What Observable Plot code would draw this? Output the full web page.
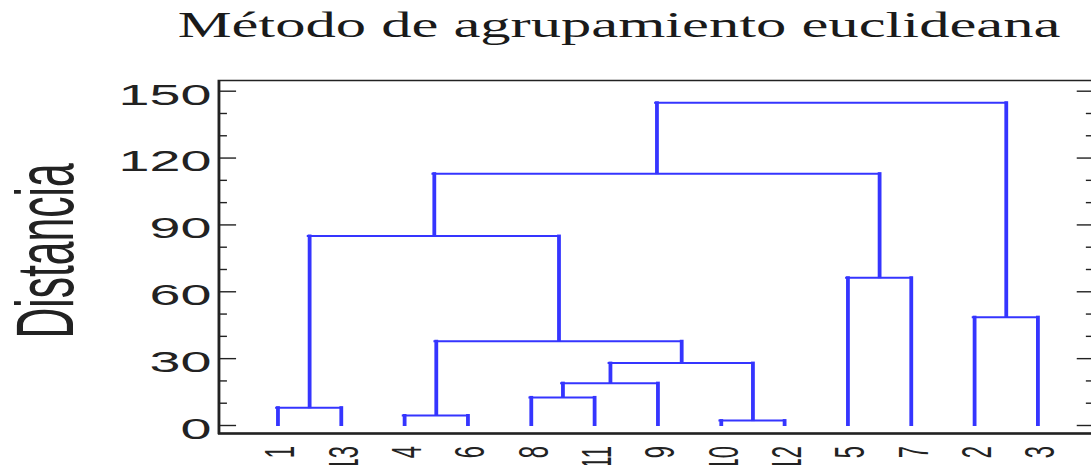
<!DOCTYPE html>
<html>
<head>
<meta charset="utf-8">
<script src="https://cdn.jsdelivr.net/npm/d3@7"></script>
<script src="https://cdn.jsdelivr.net/npm/@observablehq/plot@0.6"></script>
<style>
  html, body { margin: 0; padding: 0; background: #fff; overflow: hidden; }
  #wrap { position: relative; width: 1091px; height: 465px; overflow: hidden; background: #fff; }
  #title { position: absolute; left: 0; top: 8px; width: 1238px; text-align: center;
           font-family: "Liberation Serif", "Times New Roman", serif; font-size: 35px; line-height: 35px;
           color: #1a1a1a; transform: scaleX(1.73); transform-origin: 619px 0; white-space: nowrap; }
  #chart { position: absolute; left: 0; top: 60px; }
</style>
</head>
<body>
<div id="wrap">
  <div id="title">Método de agrupamiento euclideana</div>
  <div id="chart"></div>
</div>
<script>
// ---- data ----
const titleText = "Método de agrupamiento euclideana";
const yLabel = "Distancia";
// leaves in dendrogram order (node ids 0..12)
const leafLabels = ["1", "13", "4", "6", "8", "11", "9", "10", "12", "5", "7", "2", "3"];
// merges: node id 13 + k joins mergeLeft[k] and mergeRight[k] at mergeHeight[k]
const mergeLeft   = [0, 2, 4, 15, 7, 16, 14, 13, 9, 20, 11, 22];
const mergeRight  = [1, 3, 5, 6, 8, 17, 18, 19, 10, 21, 12, 23];
const mergeHeight = [8, 4.5, 12.6, 19, 2.2, 28, 37.8, 85, 66.3, 113, 48.6, 144.8];
const yMajorTicks = [0, 30, 60, 90, 120, 150];
const yMinorTicks = [10, 20, 40, 50, 70, 80, 100, 110, 130, 140];

// ---- build dendrogram segments ----
const nodeX = leafLabels.map((d, i) => i);
const nodeH = leafLabels.map(() => 0);
const verticals = [];
const horizontals = [];
mergeLeft.forEach((a, k) => {
  const b = mergeRight[k];
  const h = mergeHeight[k];
  verticals.push({x: nodeX[a], y1: nodeH[a], y2: h});
  verticals.push({x: nodeX[b], y1: nodeH[b], y2: h});
  horizontals.push({x1: nodeX[a], x2: nodeX[b], y: h});
  nodeX.push((nodeX[a] + nodeX[b]) / 2);
  nodeH.push(h);
});

// ---- layout (unstretched coordinates; the svg is stretched horizontally) ----
const W = 576, H = 420, S = 1091 / 574;
const mL = 114.7, mR = 0, mT = 20, mB = 47;
const frameW = W - mL - mR;
const blue = "#3535ff";
const ink = "#222";

const chart = Plot.plot({
  width: W,
  height: H,
  marginLeft: mL, marginRight: mR, marginTop: mT, marginBottom: mB,
  style: {fontFamily: "'Liberation Sans', Arial, sans-serif", color: ink, background: "#fff"},
  x: {type: "linear", domain: [-0.9316, 12.913], axis: null},
  y: {type: "linear", domain: [-3.59, 154.8], axis: null},
  marks: [
    Plot.frame({stroke: ink, strokeWidth: 1.5}),
    Plot.ruleY([-3.59], {stroke: ink, strokeWidth: 2.4}),
    // inward ticks, left and right
    Plot.ruleY(yMajorTicks, {stroke: ink, strokeWidth: 1.4, insetRight: frameW - 9.5}),
    Plot.ruleY(yMinorTicks, {stroke: ink, strokeWidth: 1.4, insetRight: frameW - 4.7}),
    Plot.ruleY(yMajorTicks, {stroke: ink, strokeWidth: 1.4, insetLeft: frameW - 9.5}),
    Plot.ruleY(yMinorTicks, {stroke: ink, strokeWidth: 1.4, insetLeft: frameW - 4.7}),
    Plot.axisY(yMajorTicks, {anchor: "left", tickSize: 0, tickPadding: 4, fontSize: 29.3, dy: 4, label: null, fill: ink}),
    Plot.text([yLabel], {frameAnchor: "left", textAnchor: "middle", rotate: -90, dx: -90.3, dy: -6, fontSize: 42.6, fill: ink}),
    // dendrogram
    Plot.ruleX(verticals, {x: "x", y1: "y1", y2: "y2", stroke: blue, strokeWidth: 2, strokeLinecap: "square"}),
    Plot.ruleY(horizontals, {y: "y", x1: "x1", x2: "x2", stroke: blue, strokeWidth: 2, strokeLinecap: "square"}),
    // leaf labels
    Plot.text(leafLabels, {x: (d, i) => i, text: d => d, frameAnchor: "bottom", rotate: -90, textAnchor: "end",
                           dx: 8.7, dy: 12.5, fontSize: 22, fill: ink})
  ]
});

chart.setAttribute("viewBox", `0 0 ${W} ${H}`);
chart.setAttribute("preserveAspectRatio", "none");
chart.style.width = (W * S) + "px";
chart.style.height = H + "px";
chart.style.maxWidth = "none";
document.getElementById("chart").appendChild(chart);
</script>
</body>
</html>
